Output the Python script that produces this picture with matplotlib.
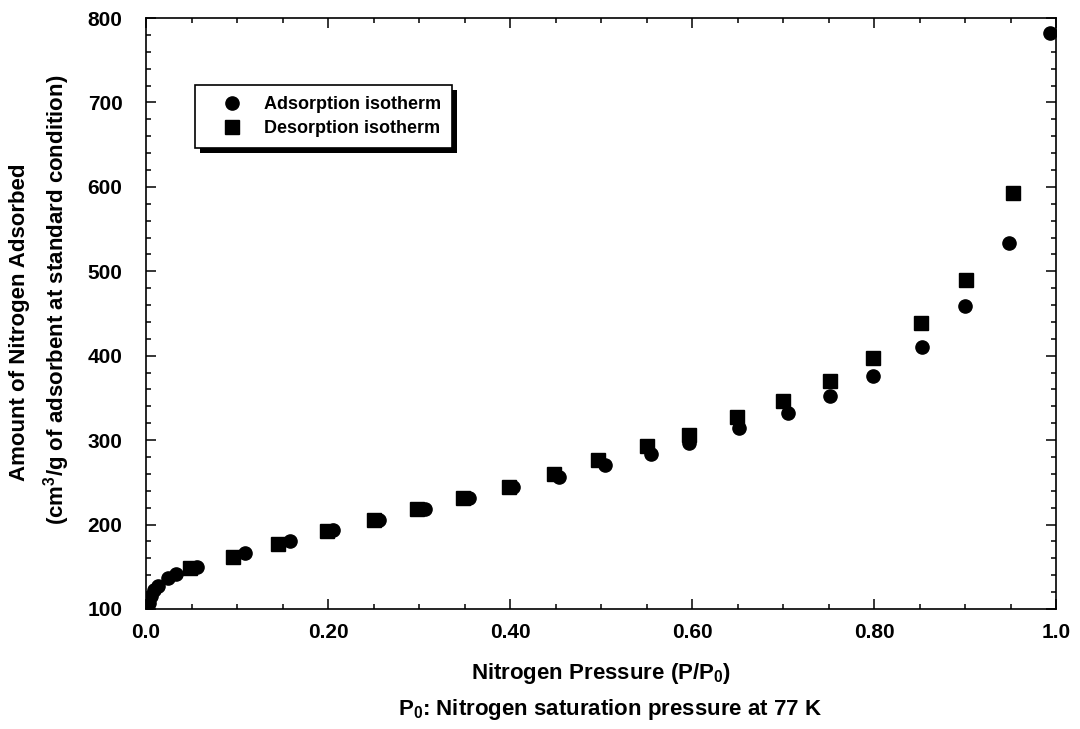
import matplotlib
matplotlib.use("Agg")
import matplotlib.pyplot as plt
from matplotlib.patches import Rectangle
from matplotlib.ticker import MultipleLocator

plt.rcParams['font.family'] = 'Liberation Sans'
plt.rcParams['font.weight'] = 'bold'
plt.rcParams['mathtext.fontset'] = 'custom'
plt.rcParams['mathtext.rm'] = 'Liberation Sans:bold'
plt.rcParams['mathtext.it'] = 'Liberation Sans:bold'
plt.rcParams['mathtext.bf'] = 'Liberation Sans:bold'

# adsorption branch (P/P0, cm3/g STP)
ads_p = [0.003, 0.006, 0.009, 0.013, 0.024, 0.033, 0.048, 0.056, 0.109, 0.158,
         0.205, 0.256, 0.307, 0.355, 0.403, 0.454, 0.504, 0.555, 0.597, 0.652,
         0.705, 0.752, 0.799, 0.853, 0.900, 0.948, 0.993]
ads_v = [107, 115, 122, 127, 137, 141, 149, 150, 166, 180,
         193, 206, 218, 231, 245, 256, 270, 284, 297, 314,
         332, 352, 376, 410, 459, 533, 782]

# desorption branch
des_p = [0.048, 0.096, 0.145, 0.199, 0.250, 0.298, 0.348, 0.399, 0.448, 0.497,
         0.551, 0.597, 0.649, 0.700, 0.752, 0.799, 0.852, 0.901, 0.953]
des_v = [149, 162, 177, 192, 205, 218, 231, 245, 260, 276,
         293, 306, 327, 346, 370, 397, 439, 490, 593]

xticks = [0.0, 0.2, 0.4, 0.6, 0.8, 1.0]
xtick_labels = ["0.0", "0.20", "0.40", "0.60", "0.80", "1.0"]
yticks = [100, 200, 300, 400, 500, 600, 700, 800]

fig = plt.figure(figsize=(10.8, 7.29), dpi=100)
ax = fig.add_axes([146 / 1080, 1 - 609 / 729, 910 / 1080, 591 / 729])

ax.plot(ads_p, ads_v, 'o', color='black', ms=9.5, label='Adsorption isotherm')
ax.plot(des_p, des_v, 's', color='black', ms=10, label='Desorption isotherm')

ax.set_xlim(0, 1.0)
ax.set_ylim(100, 800)
ax.set_xticks(xticks)
ax.set_xticklabels(xtick_labels)
ax.set_yticks(yticks)
ax.xaxis.set_minor_locator(MultipleLocator(0.05))
ax.yaxis.set_minor_locator(MultipleLocator(20))
ax.tick_params(which='both', direction='in', top=True, right=True, width=1.1)
ax.tick_params(which='major', length=7)
ax.tick_params(which='minor', length=3.5)
ax.tick_params(axis='x', which='major', labelsize=15, pad=10)
ax.tick_params(axis='y', which='major', labelsize=15, pad=17)
for s in ax.spines.values():
    s.set_linewidth(1.2)

fig.text(601 / 1080, 1 - 673 / 729, "Nitrogen Pressure (P/P$_0$)",
         fontsize=16, ha='center', va='center')
fig.text(610 / 1080, 1 - 710 / 729, "P$_0$: Nitrogen saturation pressure at 77 K",
         fontsize=16, ha='center', va='center')
fig.text(20 / 1080, 1 - 322 / 729, "Amount of Nitrogen Adsorbed",
         fontsize=16, rotation=90, ha='center', va='center')
fig.text(57 / 1080, 1 - 300 / 729, "(cm$^3$/g of adsorbent at standard condition)",
         fontsize=16, rotation=90, ha='center', va='center')

leg = ax.legend(loc='upper left', bbox_to_anchor=(195 / 1080, 1 - 85 / 729),
                bbox_transform=fig.transFigure, fontsize=13, frameon=True,
                fancybox=False, edgecolor='black', framealpha=1,
                handlelength=2.9, handletextpad=0.3, borderpad=0.6,
                labelspacing=0.42, borderaxespad=0)
leg.get_frame().set_linewidth(1.2)

# solid offset shadow behind the legend box
fig.canvas.draw()
bb = leg.get_window_extent()
shadow = Rectangle((bb.x0 + 5, bb.y0 - 5), bb.width, bb.height,
                   transform=None, facecolor='black', edgecolor='none',
                   zorder=leg.get_zorder() - 0.1)
ax.add_artist(shadow)

fig.savefig("out.png", dpi=100, facecolor='white')
